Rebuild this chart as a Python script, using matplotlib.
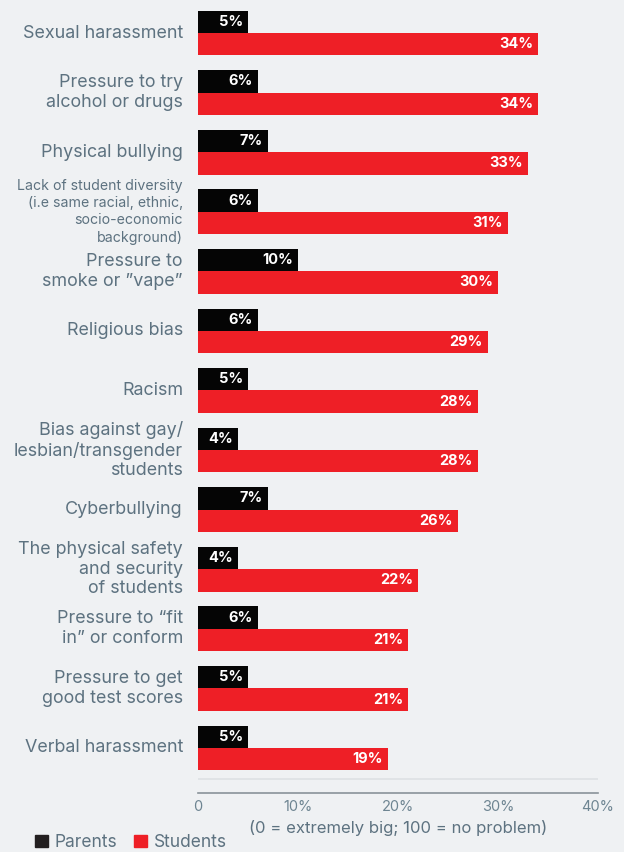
import matplotlib.pyplot as plt
from matplotlib.patches import Patch

plt.rcParams['font.family'] = ['Inter', 'DejaVu Sans']

categories = [
    "Sexual harassment",
    "Pressure to try\nalcohol or drugs",
    "Physical bullying",
    "Lack of student diversity\n(i.e same racial, ethnic,\nsocio-economic\nbackground)",
    "Pressure to\nsmoke or \u201dvape\u201d",
    "Religious bias",
    "Racism",
    "Bias against gay/\nlesbian/transgender\nstudents",
    "Cyberbullying",
    "The physical safety\nand security\nof students",
    "Pressure to \u201cfit\nin\u201d or conform",
    "Pressure to get\ngood test scores",
    "Verbal harassment",
]
parents = [5, 6, 7, 6, 10, 6, 5, 4, 7, 4, 6, 5, 5]
students = [34, 34, 33, 31, 30, 29, 28, 28, 26, 22, 21, 21, 19]
ticks = [0, 10, 20, 30, 40]
tick_labels = ["0", "10%", "20%", "30%", "40%"]

BG = '#eff1f3'
RED = '#ee1f26'
BLACK = '#050505'
TXT = '#5d7280'

W, H = 624, 852
fig = plt.figure(figsize=(W / 100, H / 100), dpi=100, facecolor=BG)
# axes spans from x=0% to x=40% horizontally, axis line near the bottom
ax = fig.add_axes([198 / W, 1 - 793 / H, 400 / W, 793 / H])
ax.set_facecolor(BG)

bh = 0.375
ys = list(range(len(categories)))
ax.barh([y - bh / 2 for y in ys], parents, height=bh, color=BLACK)
ax.barh([y + bh / 2 for y in ys], students, height=bh, color=RED)

for y, p, s in zip(ys, parents, students):
    ax.text(p - 0.5, y - bh / 2, f"{p}%", color='white', fontsize=10.5,
            fontweight='bold', ha='right', va='center')
    ax.text(s - 0.5, y + bh / 2, f"{s}%", color='white', fontsize=10.5,
            fontweight='bold', ha='right', va='center')
    small = categories[y].startswith("Lack")
    ax.text(-1.5, y, categories[y], color=TXT, fontsize=10.2 if small else 12.9,
            ha='right', va='center', linespacing=1.3 if small else 1.2)

ax.set_xlim(0, 40)
ax.set_ylim(12.756, -0.554)
ax.axhline(12.52, color='#dde1e4', lw=1.2)

for side in ['top', 'right', 'left']:
    ax.spines[side].set_visible(False)
ax.spines['bottom'].set_color('#8a9399')
ax.spines['bottom'].set_linewidth(1.2)
ax.set_yticks([])
ax.set_xticks(ticks)
ax.set_xticklabels(tick_labels)
ax.tick_params(axis='x', length=0, pad=5, labelsize=10.5, labelcolor='#6e8592')
ax.set_xlabel("(0 = extremely big; 100 = no problem)", fontsize=12,
              color=TXT, labelpad=4)

handles = [Patch(color='#231f20', label='Parents'),
           Patch(color=RED, label='Students')]
fig.legend(handles=handles, loc='center left', bbox_to_anchor=(0.04, 0.011),
           ncol=2, frameon=False, fontsize=12.5, handlelength=0.7,
           handleheight=0.7, handletextpad=0.4, columnspacing=1.0,
           labelcolor=TXT, borderpad=0.1)

fig.savefig('out.png', dpi=100, facecolor=BG)
